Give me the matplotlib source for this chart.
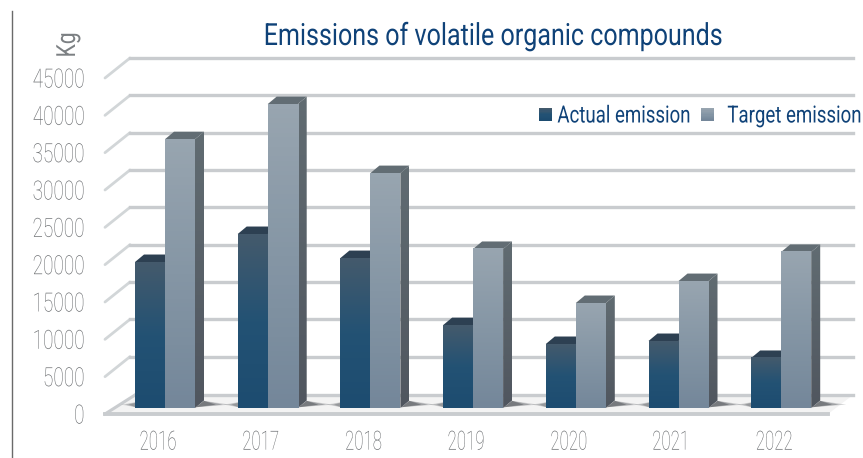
import numpy as np
import matplotlib
matplotlib.use("Agg")
import matplotlib.pyplot as plt
from matplotlib.colors import LinearSegmentedColormap
from matplotlib.patches import Polygon, Rectangle
from matplotlib.lines import Line2D
from matplotlib.legend_handler import HandlerBase
from matplotlib.patheffects import AbstractPathEffect
from matplotlib.transforms import Affine2D

years = ["2016", "2017", "2018", "2019", "2020", "2021", "2022"]
actual = [19550, 23300, 20080, 11100, 8570, 8970, 6700]
target = [36000, 40700, 31460, 21300, 14060, 17000, 20900]
yticks = [0, 5000, 10000, 15000, 20000, 25000, 30000, 35000, 40000, 45000]

plt.rcParams["font.family"] = ["Roboto", "DejaVu Sans"]


class Squeeze(AbstractPathEffect):
    """Narrow the glyphs along the text direction, about a chosen pivot."""

    def __init__(self, factor, pivot="center"):
        super().__init__()
        self.factor = factor
        self.pivot = pivot

    def draw_path(self, renderer, gc, tpath, affine, rgbFace=None):
        ext = tpath.get_extents()
        p = {"left": ext.x0, "right": ext.x1, "center": (ext.x0 + ext.x1) / 2}[self.pivot]
        pre = Affine2D().translate(-p, 0).scale(self.factor, 1).translate(p, 0)
        renderer.draw_path(gc, tpath, pre + affine, rgbFace)


fig = plt.figure(figsize=(8.63, 4.58), dpi=100)
W, H = 863, 458
ax = fig.add_axes([105 / W, (H - 414) / H, (828 - 105) / W, 336 / H])
PX_X = 102.7
PX_Y = 336 / 45000
ax.set_xlim((105 - 158) / PX_X, (828 - 158) / PX_X)
ax.set_ylim(0, 45000)


def px(dx, dy):
    return dx / PX_X, dy / PX_Y


for s in ax.spines.values():
    s.set_visible(False)
ax.set_facecolor("none")

GRID = "#c9cccf"
bx, by = px(25, 20)
x0, x1 = ax.get_xlim()
for t in yticks[1:]:
    ax.plot([x0, x0 + bx], [t, t + by], color="#d2d6d8", lw=2.0, clip_on=False, zorder=1,
            solid_capstyle="round")
    ax.plot([x0 + bx, x1 + bx], [t + by, t + by], color=GRID, lw=2.4, clip_on=False, zorder=1)

# floor
fx, fy = px(30, 19)
floor = Polygon([(x0, 0), (x0 + fx, fy), (x1 + bx, fy), (x1, 0)], closed=True,
                facecolor="#f3f3f3", edgecolor="none", clip_on=False, zorder=1.2)
ax.add_patch(floor)
ax.plot([x0, x0 + fx], [0, fy], color=GRID, lw=2.2, clip_on=False, zorder=1.3)
ax.plot([x0 + fx, x1 + bx], [fy, fy], color=GRID, lw=2.4, clip_on=False, zorder=1.3)
ax.plot([x0, x1], [0, 0], color=GRID, lw=2.8, clip_on=False, zorder=1.3)

cm_a = LinearSegmentedColormap.from_list("a", ["#1d4c70", "#235274", "#445a6c"])
cm_t = LinearSegmentedColormap.from_list("t", ["#74879a", "#8596a5", "#98a5b0"])
cm_as = LinearSegmentedColormap.from_list("as", ["#222e3c", "#2f4152"])
cm_ts = LinearSegmentedColormap.from_list("ts", ["#50565f", "#616c72"])
grad = np.linspace(0, 1, 64).reshape(-1, 1)

sx, sy = px(7, 6)
bw = 30 / PX_X
dx, dy = px(9, 7.5)


def bar3d(left, value, cm, cside, ctop, z):
    l, r = left, left + bw
    b, t = sy, sy + value
    top = Polygon([(l, t), (l + dx, t + dy), (r + dx, t + dy), (r, t)], closed=True,
                  facecolor=ctop, edgecolor="none", clip_on=False, zorder=z)
    ax.add_patch(top)
    side = Polygon([(r, b), (r + dx, b + dy), (r + dx, t + dy), (r, t)], closed=True,
                   facecolor="none", edgecolor="none", clip_on=False, zorder=z)
    ax.add_patch(side)
    im = ax.imshow(grad, origin="lower", cmap=cside, extent=(r, r + dx, b, t + dy),
                   aspect="auto", zorder=z, clip_on=True)
    im.set_clip_path(side)
    im2 = ax.imshow(grad, origin="lower", cmap=cm, extent=(l, r, b, t),
                    aspect="auto", zorder=z + 0.1)
    im2.set_clip_on(False)


for i, (a, g) in enumerate(zip(actual, target)):
    c = i + sx
    # shadow on the floor
    for k, al in ((1.0, 0.22), (0.72, 0.3), (0.45, 0.4)):
        ax.add_patch(Polygon([(c + bw + dx * 0.1, sy + dy * 0.1), (c + bw + dx, sy + dy * 0.95),
                              (c + bw + dx + k * 26 / PX_X, sy + dy * 0.45)],
                             closed=True, facecolor="#3c4046", alpha=al, edgecolor="none",
                             clip_on=False, zorder=1.5))
        ax.add_patch(Polygon([(c - bw + dx * 0.9, sy + dy * 0.95), (c - bw + dx * 0.1, sy + dy * 0.1),
                              (c - bw - k * 14 / PX_X, sy + dy * 0.45)],
                             closed=True, facecolor="#6a6e72", alpha=al, edgecolor="none",
                             clip_on=False, zorder=1.5))
    bar3d(c - bw, a, cm_a, cm_as, "#2d4052", 3)
    bar3d(c, g, cm_t, cm_ts, "#626d74", 4)

ax.set_xlim((105 - 158) / PX_X, (828 - 158) / PX_X)
ax.set_ylim(0, 45000)

GRAY = "#66696c"
ax.set_xticks(range(len(years)), years)
ax.set_yticks(yticks, [str(t) for t in yticks])
ax.tick_params(axis="x", length=0, pad=12, labelsize=19, labelcolor=GRAY)
ax.tick_params(axis="y", length=0, pad=14.5, labelsize=19, labelcolor=GRAY)
for lab in ax.get_xticklabels():
    lab.set_fontweight("light")
    lab.set_path_effects([Squeeze(0.64, "center")])
for lab in ax.get_yticklabels():
    lab.set_fontweight("light")
    lab.set_path_effects([Squeeze(0.72, "right")])

BLUE = "#0f4278"
title = fig.text(493 / W, 1 - 45 / H, "Emissions of volatile organic compounds", ha="center",
                 va="baseline", fontsize=22, color=BLUE, fontweight="normal")
title.set_path_effects([Squeeze(0.82, "center")])
kg = fig.text(68 / W, 1 - 45 / H, "Kg", rotation=90, ha="center", va="center", fontsize=19,
              color="#7c8083", fontweight="normal")
kg.set_path_effects([Squeeze(0.8, "center")])
fig.add_artist(Line2D([11.5 / W, 11.5 / W], [0, 1 - 11 / H], color="#6a6a6a", lw=1.0))


class GradHandle:
    def __init__(self, cmap, shift):
        self.cmap = cmap
        self.shift = shift


class GradHandler(HandlerBase):
    def create_artists(self, legend, orig, xd, yd, width, height, fontsize, trans):
        n = 10
        arts = []
        size = 13.0 * 0.72
        y0 = (height - size) / 2
        for k in range(n):
            arts.append(Rectangle((orig.shift * 0.72, y0 + size * k / n), size, size / n + 0.05,
                                  facecolor=orig.cmap(k / (n - 1)), edgecolor="none", transform=trans))
        return arts


leg = fig.legend([GradHandle(cm_a, 30), GradHandle(cm_t, 22)], ["Actual emission", "Target emission"],
                 handler_map={GradHandle: GradHandler()}, loc="center right", ncol=2,
                 bbox_to_anchor=(862 / W, 1 - 116 / H), frameon=False,
                 labelcolor=BLUE, handlelength=0.55, handletextpad=0.0, columnspacing=-0.5,
                 borderpad=0, borderaxespad=0, prop={"weight": "normal", "size": 17})
for txt in leg.get_texts():
    txt.set_path_effects([Squeeze(0.79, "right")])

fig.savefig("out.png", dpi=100)
